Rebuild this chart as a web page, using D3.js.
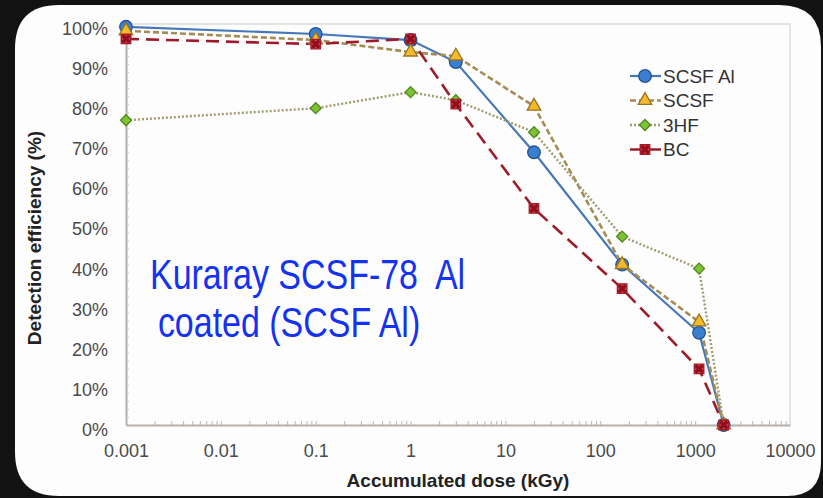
<!DOCTYPE html>
<html>
<head>
<meta charset="utf-8">
<script src="https://cdn.jsdelivr.net/npm/d3@7"></script>
<style>
  html, body { margin: 0; padding: 0; background: #121212; }
  svg { display: block; }
</style>
</head>
<body>
<div id="chart"></div>
<script>
"use strict";

// data
var doses = [0.001, 0.1, 1, 3, 20, 170, 1100, 2000];
var scsfAl = [99.3, 97.5, 96, 90.5, 68, 40, 23, 0];
var scsf = [98.3, 96, 93, 92, 79.5, 40, 25.7, 0];
var hf3 = [76, 79, 83, 81, 73, 47, 39, 0];
var bc = [96.3, 95, 96.3, 80, 54, 34, 14, 0];

var seriesNames = ["SCSF Al", "SCSF", "3HF", "BC"];
var xTicks = [0.001, 0.01, 0.1, 1, 10, 100, 1000, 10000];
var yTicks = [0, 10, 20, 30, 40, 50, 60, 70, 80, 90, 100];

var width = 823, height = 498;
var font = "Liberation Sans, Arial, sans-serif";

var svg = d3.select("#chart").append("svg")
	.attr("width", width)
	.attr("height", height);

// white panel with uneven rounded corners
var roundedPath = function(x, y, w, h, tl, tr, br, bl) {
	return "M" + (x + tl) + "," + y +
		"L" + (x + w - tr) + "," + y +
		"Q" + (x + w) + "," + y + " " + (x + w) + "," + (y + tr) +
		"L" + (x + w) + "," + (y + h - br) +
		"Q" + (x + w) + "," + (y + h) + " " + (x + w - br) + "," + (y + h) +
		"L" + (x + bl) + "," + (y + h) +
		"Q" + x + "," + (y + h) + " " + x + "," + (y + h - bl) +
		"L" + x + "," + (y + tl) +
		"Q" + x + "," + y + " " + (x + tl) + "," + y + "Z";
};

svg.append("rect")
	.attr("width", width).attr("height", height)
	.attr("fill", "#121212");

svg.append("path")
	.attr("d", roundedPath(15, 5, 806, 491, 44, 42, 34, 44))
	.attr("fill", "#fdfdfd");

var x = d3.scaleLog().domain([0.001, 10000]).range([126, 790]);
var y = d3.scaleLinear().domain([0, 100]).range([425, 24]);

// frame
svg.append("path")
	.attr("d", "M" + x(0.001) + "," + y(100) + "H" + x(10000) + "V" + y(0))
	.attr("fill", "none")
	.attr("stroke", "#dcdcdc")
	.attr("stroke-width", 1.5);

// y axis with minor ticks inside
var yAxis = svg.append("g")
	.attr("transform", "translate(" + x(0.001) + ",0)")
	.call(d3.axisLeft(y).tickValues(yTicks).tickSize(0).tickPadding(18)
		.tickFormat(function(d) { return d + "%"; }));
yAxis.select(".domain").attr("stroke", "#b4aeab").attr("stroke-width", 2);
yAxis.selectAll("text")
	.attr("font-family", font)
	.attr("font-size", "18px")
	.attr("fill", "#4a4a4a")
	.attr("dy", "0.58em");

svg.append("g")
	.attr("transform", "translate(" + x(0.001) + ",0)")
	.call(d3.axisRight(y).tickValues(d3.range(2, 100, 2)).tickSize(3).tickFormat(""))
	.call(function(g) {
		g.select(".domain").remove();
		g.selectAll("line").attr("stroke", "#c8c4c2");
	});

// x axis
var xAxis = svg.append("g")
	.attr("transform", "translate(0," + y(0) + ")")
	.call(d3.axisBottom(x).tickValues(xTicks).tickSize(0).tickPadding(19)
		.tickFormat(function(d) { return d < 1 ? d3.format("")(d) : d3.format("d")(d); }));
xAxis.select(".domain").attr("stroke", "#b8b0ac").attr("stroke-width", 2);
xAxis.selectAll("text")
	.attr("font-family", font)
	.attr("font-size", "18px")
	.attr("fill", "#4a4a4a");

var minorX = [];
xTicks.slice(0, -1).forEach(function(t) {
	for (var k = 1; k <= 9; k++) minorX.push(t * k);
});
svg.append("g")
	.attr("transform", "translate(0," + y(0) + ")")
	.call(d3.axisTop(x).tickValues(minorX).tickSize(4).tickFormat(""))
	.call(function(g) {
		g.select(".domain").remove();
		g.selectAll("line").attr("stroke", "#bcb6b3");
	});

// axis titles
svg.append("text")
	.attr("transform", "translate(41,238) rotate(-90)")
	.attr("text-anchor", "middle")
	.attr("font-family", font)
	.attr("font-weight", "bold")
	.attr("font-size", "19px")
	.attr("fill", "#222")
	.text("Detection efficiency (%)");

svg.append("text")
	.attr("x", 458).attr("y", 487)
	.attr("text-anchor", "middle")
	.attr("font-family", font)
	.attr("font-weight", "bold")
	.attr("font-size", "19px")
	.attr("fill", "#222")
	.text("Accumulated dose (kGy)");

// series styles
var series = [
	{ name: seriesNames[0], values: scsfAl, line: "#4677b8", dash: null, width: 2.2,
		symbol: d3.symbolCircle, size: 125, rot: 0, fill: "#3b7fd0", stroke: "#24528e" },
	{ name: seriesNames[1], values: scsf, line: "#a48d55", dash: "6,3", width: 2.6,
		symbol: d3.symbolTriangle, size: 80, rot: 0, fill: "#f2ba2c", stroke: "#9a7420" },
	{ name: seriesNames[2], values: hf3, line: "#a09c70", dash: "2,2", width: 2.4,
		symbol: d3.symbolSquare, size: 60, rot: 45, fill: "#7fc234", stroke: "#4f8a1e" },
	{ name: seriesNames[3], values: bc, line: "#9c1c2c", dash: "13,7", width: 2.6,
		symbol: d3.symbolSquare, size: 90, rot: 0, fill: "#e23a3a", stroke: "#a51a26" }
];

var line = d3.line()
	.x(function(d) { return x(d[0]); })
	.y(function(d) { return y(d[1]); });

var drawMarker = function(g, s) {
	g.append("path")
		.attr("d", d3.symbol().type(s.symbol).size(s.size)())
		.attr("transform", "rotate(" + s.rot + ")")
		.attr("fill", s.fill)
		.attr("stroke", s.stroke)
		.attr("stroke-width", 1.3);
	if (s.name === "BC") {
		g.append("path")
			.attr("d", d3.symbol().type(d3.symbolCross).size(55)())
			.attr("transform", "rotate(45)")
			.attr("fill", "#8c1020");
	}
};

series.forEach(function(s) {
	var pts = doses.map(function(d, i) { return [d, s.values[i]]; });
	svg.append("path")
		.attr("d", line(pts))
		.attr("fill", "none")
		.attr("stroke", s.line)
		.attr("stroke-width", s.width)
		.attr("stroke-dasharray", s.dash);
});

series.forEach(function(s) {
	doses.forEach(function(d, i) {
		var g = svg.append("g")
			.attr("transform", "translate(" + x(d) + "," + y(s.values[i]) + ")");
		drawMarker(g, s);
	});
});

// legend
var legend = svg.append("g").attr("transform", "translate(630,76)");
series.forEach(function(s, i) {
	var row = legend.append("g").attr("transform", "translate(0," + i * 24.5 + ")");
	row.append("line")
		.attr("x1", 0).attr("x2", 31)
		.attr("stroke", s.line)
		.attr("stroke-width", s.width)
		.attr("stroke-dasharray", s.dash);
	var m = row.append("g").attr("transform", "translate(15,0)");
	drawMarker(m, s);
	row.append("text")
		.attr("x", 33).attr("dy", "0.36em")
		.attr("font-family", font)
		.attr("font-size", "19px")
		.attr("fill", "#333")
		.text(s.name);
});

// blue annotation, squeezed to a narrow face
var note = svg.append("text")
	.attr("transform", "translate(150,0) scale(0.79,1)")
	.attr("font-family", font)
	.attr("font-size", "43px")
	.attr("fill", "#1432f0")
	.style("white-space", "pre");
note.append("tspan").attr("x", 0).attr("y", 289).text("Kuraray SCSF-78  Al");
note.append("tspan").attr("x", 10).attr("y", 337).text("coated (SCSF Al)");
</script>
</body>
</html>
